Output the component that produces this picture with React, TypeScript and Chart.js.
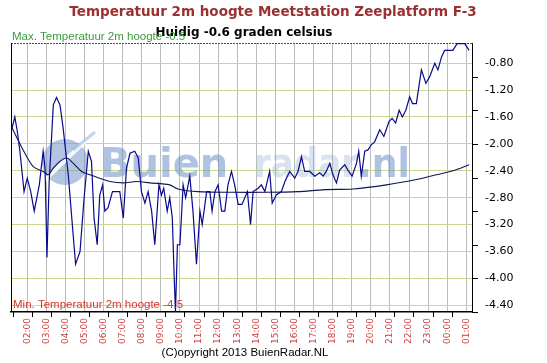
import React, { useEffect, useRef } from "react";
import { Chart, registerables } from "chart.js";

Chart.register(...registerables);

// ---- data ----
const sampleTimes = [
  "01:11", "01:21", "01:29", "01:37", "01:50", "02:00", "02:11", "02:22", "02:38", "02:50",
  "02:56", "03:02", "03:09", "03:22", "03:32", "03:43", "03:53", "04:09", "04:20", "04:32",
  "04:46", "04:58", "05:12", "05:22", "05:30", "05:40", "05:48", "05:57", "06:04", "06:14",
  "06:28", "06:51", "07:02", "07:12", "07:23", "07:38", "07:49", "07:59", "08:10", "08:20",
  "08:31", "08:41", "08:54", "09:02", "09:09", "09:20", "09:28", "09:36", "09:42", "09:46",
  "09:52", "10:00", "10:10", "10:18", "10:31", "10:41", "10:52", "11:03", "11:10", "11:24",
  "11:34", "11:41", "11:50", "12:00", "12:11", "12:21", "12:31", "12:42", "12:52", "13:03",
  "13:15", "13:32", "13:42", "13:50", "14:06", "14:16", "14:27", "14:42", "14:50", "15:03",
  "15:19", "15:30", "15:45", "16:01", "16:11", "16:22", "16:32", "16:48", "17:04", "17:19",
  "17:30", "17:40", "17:51", "18:01", "18:12", "18:22", "18:38", "18:48", "19:01", "19:15",
  "19:22", "19:30", "19:41", "19:51", "20:02", "20:12", "20:28", "20:41", "20:57", "21:07",
  "21:18", "21:29", "21:39", "21:50", "22:02", "22:11", "22:23", "22:39", "22:53", "23:05",
  "23:21", "23:31", "23:42", "23:52", "00:18", "00:31", "00:55", "01:09",
];
const temperature = [
  -1.79, -1.6, -1.82, -2.11, -2.71, -2.51, -2.71, -3.0, -2.61, -2.11,
  -2.36, -3.69, -2.56, -1.42, -1.31, -1.42, -1.77, -2.46, -3.1, -3.79,
  -3.6, -2.85, -2.11, -2.26, -3.1, -3.5, -2.76, -2.61, -3.0, -2.95,
  -2.71, -2.71, -3.1, -2.36, -2.14, -2.11, -2.21, -2.71, -2.88, -2.71,
  -3.0, -3.5, -2.61, -2.76, -2.66, -3.0, -2.8, -3.1, -3.99, -4.5,
  -3.5, -3.5, -2.61, -2.8, -2.48, -3.0, -3.79, -3.0, -3.2, -2.71,
  -2.71, -3.0, -2.71, -2.61, -3.0, -3.0, -2.61, -2.41, -2.61, -2.9,
  -2.9, -2.71, -3.2, -2.71, -2.66, -2.61, -2.71, -2.41, -2.88, -2.76,
  -2.71, -2.56, -2.41, -2.51, -2.41, -2.19, -2.41, -2.41, -2.48, -2.43,
  -2.48, -2.41, -2.29, -2.46, -2.58, -2.39, -2.31, -2.39, -2.48, -2.29,
  -2.11, -2.48, -2.11, -2.09, -2.01, -1.97, -1.79, -1.89, -1.67, -1.62,
  -1.69, -1.5, -1.6, -1.5, -1.3, -1.4, -1.4, -0.9, -1.1, -1.0,
  -0.8, -0.9, -0.71, -0.61, -0.61, -0.51, -0.51, -0.61,
];
const averageTimes = [
  "01:11", "01:47", "02:19", "02:50", "03:06", "03:22", "03:43", "04:04", "04:25", "04:51",
  "05:17", "05:48", "06:20", "07:02", "07:44", "08:25", "09:28", "09:54", "10:57", "12:42",
  "14:27", "16:11", "17:35", "19:04", "20:49", "22:23", "23:26", "00:18", "01:09",
];
const averageTemperature = [
  -1.75, -2.09, -2.34, -2.41, -2.46, -2.36, -2.26, -2.21, -2.29, -2.41,
  -2.46, -2.51, -2.56, -2.58, -2.56, -2.58, -2.61, -2.67, -2.71, -2.72,
  -2.72, -2.71, -2.68, -2.67, -2.61, -2.53, -2.46, -2.4, -2.31,
];
const hourLabels = [
  "02:00", "03:00", "04:00", "05:00", "06:00", "07:00", "08:00", "09:00", "10:00", "11:00",
  "12:00", "13:00", "14:00", "15:00", "16:00", "17:00", "18:00", "19:00", "20:00", "21:00",
  "22:00", "23:00", "00:00", "01:00",
];
const yTickValues = [-4.4, -4.0, -3.6, -3.2, -2.8, -2.4, -2.0, -1.6, -1.2, -0.8];
const yMin = -4.5;
const yMax = -0.5;
const xStartHour = 1.15;
const xEndHour = 25.3;

const titleText = "Temperatuur 2m hoogte Meetstation Zeeplatform F-3";
const subtitleText = "Huidig -0.6 graden celsius";
const maxText = "Max. Temperatuur 2m hoogte -0.5";
const minText = "Min. Temperatuur 2m hoogte -4.5";
const copyrightText = "(C)opyright 2013 BuienRadar.NL";

// convert "HH:MM" list to continuous hours (wrapping past midnight)
function toHours(list: string[]): number[] {
  let offset = 0;
  let prev = -Infinity;
  return list.map((s) => {
    const [h, m] = s.split(":").map(Number);
    let v = h + m / 60 + offset;
    if (v < prev) {
      offset += 24;
      v += 24;
    }
    prev = v;
    return v;
  });
}

const sampleHours = toHours(sampleTimes);
const averageHours = toHours(averageTimes);
const hourTickValues = toHours(hourLabels);

const decorPlugin = {
  id: "decor",
  beforeDatasetsDraw(chart: any) {
    const { ctx, chartArea } = chart;
    const { left, right, top, bottom } = chartArea;
    ctx.save();
    // watermark logo
    const cx = 65, cy = 162, r = 23;
    ctx.beginPath();
    ctx.arc(cx, cy, r, 0, Math.PI * 2);
    ctx.fillStyle = "rgba(105,140,195,0.5)";
    ctx.fill();
    ctx.strokeStyle = "rgba(255,255,255,0.9)";
    ctx.lineWidth = 4;
    ctx.beginPath();
    ctx.moveTo(cx - 22, cy + 20);
    ctx.quadraticCurveTo(cx + 2, cy - 4, cx + 28, cy - 28);
    ctx.stroke();
    ctx.strokeStyle = "rgba(150,175,215,0.55)";
    ctx.lineWidth = 3;
    ctx.beginPath();
    ctx.moveTo(cx + 8, cy - 12);
    ctx.lineTo(cx + 30, cy - 30);
    ctx.stroke();
    ctx.textBaseline = "alphabetic";
    ctx.textAlign = "left";
    ctx.font = "bold 40px 'DejaVu Sans'";
    ctx.fillStyle = "rgba(110,145,198,0.55)";
    ctx.fillText("Buien", 100, 177, 150);
    ctx.fillStyle = "rgba(130,160,208,0.3)";
    ctx.fillText("radar", 254, 177, 104);
    ctx.fillStyle = "rgba(110,145,198,0.55)";
    ctx.fillText(".nl", 358, 177, 52);

    // top max line (dotted green)
    ctx.strokeStyle = "#1f6b1f";
    ctx.lineWidth = 1;
    ctx.setLineDash([2, 1]);
    ctx.beginPath();
    ctx.moveTo(left, top + 0.5);
    ctx.lineTo(right, top + 0.5);
    ctx.stroke();
    ctx.setLineDash([]);
    // left border
    ctx.strokeStyle = "#000";
    ctx.beginPath();
    ctx.moveTo(left + 0.5, top);
    ctx.lineTo(left + 0.5, bottom);
    ctx.stroke();
    ctx.restore();
  },
  afterDraw(chart: any) {
    const { ctx, chartArea, scales } = chart;
    const { right, bottom } = chartArea;
    ctx.save();
    // small ticks
    ctx.strokeStyle = "#000";
    ctx.lineWidth = 1;
    for (let k = 0; k < 24; k++) {
      const px = Math.round(scales.x.getPixelForValue(xStartHour + 0.085 + k)) + 0.5;
      ctx.beginPath();
      ctx.moveTo(px, bottom);
      ctx.lineTo(px, bottom + 5);
      ctx.stroke();
    }
    for (let v = -1.0; v >= yMin; v -= 0.5) {
      const py = Math.round(scales.y.getPixelForValue(v)) + 0.5;
      ctx.beginPath();
      ctx.moveTo(right, py);
      ctx.lineTo(right + 6, py);
      ctx.stroke();
    }
    // texts
    ctx.textBaseline = "middle";
    ctx.textAlign = "center";
    ctx.fillStyle = "#9b3030";
    ctx.font = "bold 13.5px 'DejaVu Sans'";
    ctx.fillText(titleText, 273, 12);
    ctx.fillStyle = "#000";
    ctx.font = "bold 12px 'DejaVu Sans'";
    ctx.fillText(subtitleText, 244, 33);
    ctx.textAlign = "left";
    ctx.font = "11.5px 'Liberation Sans'";
    ctx.fillStyle = "#3c9a3c";
    ctx.fillText(maxText, 12, 37);
    ctx.fillStyle = "#d23a2a";
    ctx.fillText(minText, 13, 305);
    ctx.textAlign = "center";
    ctx.fillStyle = "#000";
    ctx.font = "11.5px 'Liberation Sans'";
    ctx.fillText(copyrightText, 245, 353);
    ctx.restore();
  },
};

export default function App() {
  const ref = useRef<HTMLCanvasElement | null>(null);
  useEffect(() => {
    if (!ref.current) return;
    const chart = new Chart(ref.current, {
      type: "line",
      data: {
        datasets: [
          {
            data: sampleHours.map((x, i) => ({ x, y: temperature[i] })),
            borderColor: "#0a0a8c",
            borderWidth: 1.2,
            pointRadius: 0,
            tension: 0,
          },
          {
            data: averageHours.map((x, i) => ({ x, y: averageTemperature[i] })),
            borderColor: "#14145a",
            borderWidth: 1.1,
            pointRadius: 0,
            tension: 0.3,
          },
        ],
      },
      options: {
        animation: false,
        responsive: false,
        maintainAspectRatio: false,
        layout: { padding: { left: 11, top: 43, right: 0, bottom: 0 } },
        plugins: { legend: { display: false }, tooltip: { enabled: false }, title: { display: false } },
        scales: {
          x: {
            type: "linear",
            min: xStartHour,
            max: xEndHour,
            afterBuildTicks: (s: any) => {
              s.ticks = hourTickValues.map((v) => ({ value: v }));
            },
            afterFit: (s: any) => {
              s.height = 51;
            },
            ticks: {
              autoSkip: false,
              maxRotation: 90,
              minRotation: 90,
              padding: 6,
              color: "#d03c3c",
              font: { family: "'DejaVu Sans'", size: 9 },
              callback: (v: any) => hourLabels[hourTickValues.indexOf(v)] ?? "",
            },
            grid: { color: "#bcbcbc", drawTicks: false, lineWidth: 1 },
            border: { color: "#000", width: 1.5 },
          },
          y: {
            position: "right",
            min: yMin,
            max: yMax,
            afterBuildTicks: (s: any) => {
              s.ticks = yTickValues.map((v) => ({ value: v }));
            },
            afterFit: (s: any) => {
              s.width = 75;
            },
            ticks: {
              color: "#000",
              padding: 13,
              font: { family: "'DejaVu Sans'", size: 11 },
              callback: (v: any) => Number(v).toFixed(2),
            },
            grid: { color: "#c8d890", drawTicks: false, lineWidth: 1 },
            border: { color: "#000", width: 1 },
          },
        },
      },
      plugins: [decorPlugin],
    } as any);
    return () => chart.destroy();
  }, []);
  return (
    <div style={{ position: "absolute", left: 0, top: 0, width: 547, height: 363, background: "#fff" }}>
      <canvas ref={ref} width={547} height={363} style={{ width: 547, height: 363 }} />
    </div>
  );
}
